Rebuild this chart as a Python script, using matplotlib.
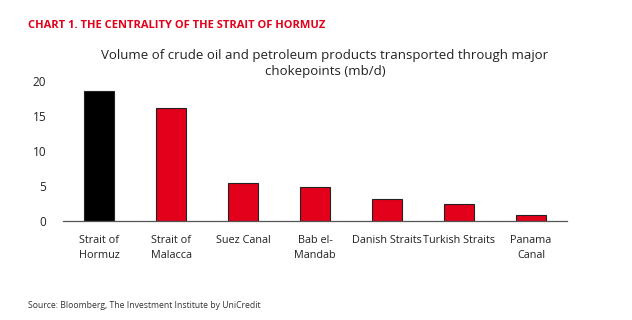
import matplotlib.pyplot as plt

# Chart data
chokepoints = ["Strait of\nHormuz", "Strait of\nMalacca", "Suez Canal", "Bab el-\nMandab",
               "Danish Straits", "Turkish Straits", "Panama\nCanal"]
volumes = [18.6, 16.1, 5.5, 4.8, 3.2, 2.4, 0.8]
yticks = [0, 5, 10, 15, 20]

red = "#E2001A"
colors = ["#000000"] + [red] * (len(volumes) - 1)

plt.rcParams["font.family"] = ["Open Sans", "DejaVu Sans"]

fig = plt.figure(figsize=(6.32, 3.2), dpi=100)
ax = fig.add_axes([63 / 632, 1 - 221 / 320, 504 / 632, 140 / 320])

x = range(len(chokepoints))
ax.bar(x, volumes, width=0.42, color=colors, edgecolor="#222222", linewidth=0.8, zorder=2)
ax.set_xlim(-0.5, len(chokepoints) - 0.5)
ax.set_ylim(0, 20)
ax.set_yticks(yticks)
ax.set_xticks(list(x))
ax.set_xticklabels(chokepoints, fontsize=7.8, color="#222222", linespacing=1.5)
ax.tick_params(axis="y", labelsize=8.5, colors="#222222", length=0, pad=12)
ax.tick_params(axis="x", length=0, pad=10)

for s in ["top", "right", "left"]:
    ax.spines[s].set_visible(False)
ax.spines["bottom"].set_color("#555555")
ax.spines["bottom"].set_linewidth(0.9)

fig.text(28 / 632, 1 - 25 / 320, "CHART 1. THE CENTRALITY OF THE STRAIT OF HORMUZ",
         color=red, fontsize=8, fontweight="bold", va="center", ha="left")
fig.text(325 / 632, 1 - 63.5 / 320,
         "Volume of crude oil and petroleum products transported through major\nchokepoints (mb/d)",
         fontsize=9.5, color="#222222", ha="center", va="center", linespacing=1.35)
fig.text(28 / 632, 1 - 306 / 320, "Source: Bloomberg, The Investment Institute by UniCredit",
         fontsize=6.2, color="#333333", va="center", ha="left")

fig.savefig("out.png", dpi=100)
